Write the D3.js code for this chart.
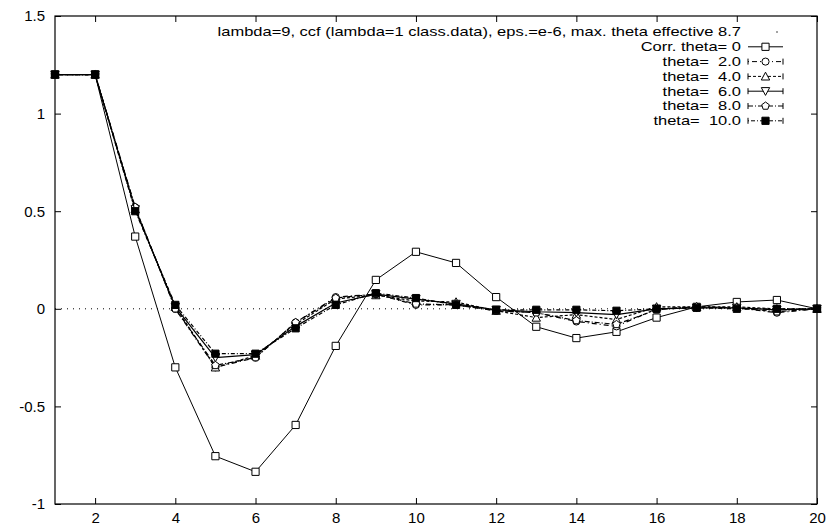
<!DOCTYPE html>
<html>
<head>
<meta charset="utf-8">
<script src="https://cdn.jsdelivr.net/npm/d3@7/dist/d3.min.js"></script>
<style>
  body { margin: 0; background: #fff; }
  svg text { font-family: "Liberation Sans", Arial, sans-serif; fill: #000; }
</style>
</head>
<body>
<div id="chart"></div>
<script>
// lag positions
const lags = [1, 2, 3, 4, 5, 6, 7, 8, 9, 10, 11, 12, 13, 14, 15, 16, 17, 18, 19, 20];

// series values
const corr0   = [1.2, 1.2, 0.37, -0.30, -0.755, -0.835, -0.595, -0.19, 0.148, 0.292, 0.235, 0.06, -0.092, -0.15, -0.118, -0.045, 0.01, 0.035, 0.045, 0];
const theta2  = [1.2, 1.2, 0.52, 0.0, -0.30, -0.25, -0.07, 0.06, 0.075, 0.02, 0.02, -0.01, -0.02, -0.065, -0.09, 0.0, 0.01, 0.005, -0.02, 0];
const theta4  = [1.2, 1.2, 0.51, 0.01, -0.30, -0.24, -0.08, 0.05, 0.07, 0.04, 0.035, -0.01, -0.045, -0.03, -0.055, 0.01, 0.01, 0.01, 0.0, 0];
const theta6  = [1.2, 1.2, 0.51, 0.01, -0.25, -0.235, -0.09, 0.03, 0.075, 0.05, 0.025, -0.005, -0.015, -0.02, -0.03, 0.0, 0.005, 0.005, -0.005, 0];
const theta8  = [1.2, 1.2, 0.52, 0.0, -0.29, -0.25, -0.07, 0.055, 0.075, 0.025, 0.02, -0.01, -0.02, -0.06, -0.08, -0.005, 0.01, 0.005, -0.015, 0];
const theta10 = [1.2, 1.2, 0.50, 0.02, -0.23, -0.23, -0.10, 0.02, 0.08, 0.055, 0.02, -0.005, -0.005, -0.005, -0.01, 0.0, 0.005, 0.0, 0.0, 0];

const xTicks = [2, 4, 6, 8, 10, 12, 14, 16, 18, 20];
const yTicks = [-1, -0.5, 0, 0.5, 1, 1.5];
const keyTitle = "lambda=9, ccf (lambda=1 class.data), eps.=e-6, max. theta effective 8.7";

// series table (labels, line dash, marker)
const series = [
  { label: "Corr. theta= 0", values: corr0,   dash: null,        marker: "square",  caps: false },
  { label: "theta=  2.0",    values: theta2,  dash: "1,3,5,3",   marker: "circle",  caps: true },
  { label: "theta=  4.0",    values: theta4,  dash: "3,2",       marker: "triUp",   caps: true },
  { label: "theta=  6.0",    values: theta6,  dash: null,        marker: "triDown", caps: true },
  { label: "theta=  8.0",    values: theta8,  dash: "5,2,1,2",   marker: "pent",    caps: true },
  { label: "theta=  10.0",   values: theta10, dash: "1,2,4,2",   marker: "filled",  caps: true }
];

const width = 832, height = 525;
const plot = { left: 55, right: 817, top: 16, bottom: 504 };

const svg = d3.select('#chart').append('svg')
  .attr('width', width)
  .attr('height', height);

const x = d3.scaleLinear().domain([1, 20]).range([plot.left, plot.right]);
const y = d3.scaleLinear().domain([-1, 1.5]).range([plot.bottom, plot.top]);

// zero line (dotted)
svg.append('line')
  .attr('x1', x(1)).attr('x2', x(20))
  .attr('y1', y(0)).attr('y2', y(0))
  .attr('stroke', '#000').attr('stroke-width', 1)
  .attr('stroke-dasharray', '1,5');

// axes, ticks pointing inward, mirrored on top and right
const fmt = d => String(d);
svg.append('g').attr('transform', `translate(0,${plot.bottom})`)
  .call(d3.axisBottom(x).tickValues(xTicks).tickFormat(fmt).tickSizeInner(-6).tickSizeOuter(0).tickPadding(8));
svg.append('g').attr('transform', `translate(0,${plot.top})`)
  .call(d3.axisTop(x).tickValues(xTicks).tickFormat('').tickSizeInner(-6).tickSizeOuter(0));
svg.append('g').attr('transform', `translate(${plot.left},0)`)
  .call(d3.axisLeft(y).tickValues(yTicks).tickFormat(fmt).tickSizeInner(-6).tickSizeOuter(0).tickPadding(10));
svg.append('g').attr('transform', `translate(${plot.right},0)`)
  .call(d3.axisRight(y).tickValues(yTicks).tickFormat('').tickSizeInner(-6).tickSizeOuter(0));

svg.selectAll('.domain').remove();
svg.selectAll('.tick line').attr('stroke', '#000');
svg.selectAll('.tick text').style('font-family', '"Liberation Sans", Arial, sans-serif').style('font-size', '15px');

svg.append('rect')
  .attr('x', plot.left).attr('y', plot.top)
  .attr('width', plot.right - plot.left).attr('height', plot.bottom - plot.top)
  .attr('fill', 'none').attr('stroke', '#000').attr('stroke-width', 1.2);

// marker shapes
function markerPath(type) {
  const s = 3.6;
  switch (type) {
    case 'square':
    case 'filled':
      return `M${-s},${-s}H${s}V${s}H${-s}Z`;
    case 'circle':
      return d3.symbol(d3.symbolCircle, 40)();
    case 'triUp':
      return `M0,${-s - 0.6}L${s + 0.6},${s}L${-s - 0.6},${s}Z`;
    case 'triDown':
      return `M0,${s + 0.6}L${s + 0.6},${-s}L${-s - 0.6},${-s}Z`;
    case 'pent': {
      const pts = d3.range(5).map(i => {
        const a = -Math.PI / 2 + i * 2 * Math.PI / 5;
        return [Math.cos(a) * (s + 0.4), Math.sin(a) * (s + 0.4)];
      });
      return 'M' + pts.map(p => p.join(',')).join('L') + 'Z';
    }
  }
}

const line = d3.line().x((d, i) => x(lags[i])).y(d => y(d));

series.forEach(s => {
  const g = svg.append('g');
  g.append('path')
    .datum(s.values)
    .attr('d', line)
    .attr('fill', 'none')
    .attr('stroke', '#000')
    .attr('stroke-width', s.marker === 'square' ? 1 : 1.2)
    .attr('stroke-dasharray', s.dash);
  g.selectAll('path.mk')
    .data(s.values)
    .enter()
    .append('path')
    .attr('class', 'mk')
    .attr('transform', (d, i) => `translate(${x(lags[i])},${y(d)})`)
    .attr('d', markerPath(s.marker))
    .attr('fill', s.marker === 'filled' ? '#000' : '#fff')
    .attr('stroke', '#000')
    .attr('stroke-width', 1);
});

// key, top right inside the frame (gnuplot's font is wide, so stretch it)
const key = { textRight: 741, sx1: 748, sx2: 783, y0: 32, dy: 14.8, stretch: 1.32 };
const keyG = svg.append('g').style('font-size', '12.5px');

function keyText(str, yy) {
  keyG.append('text')
    .attr('transform', `translate(${key.textRight},${yy}) scale(${key.stretch},1)`)
    .attr('dy', '0.35em')
    .attr('text-anchor', 'end')
    .style('white-space', 'pre')
    .text(str);
}

keyText(keyTitle, key.y0);
keyG.append('circle')
  .attr('cx', 777).attr('cy', key.y0)
  .attr('r', 0.7).attr('fill', '#000');

series.forEach((s, i) => {
  const yy = key.y0 + key.dy * (i + 1);
  const mid = (key.sx1 + key.sx2) / 2;
  keyText(s.label, yy);
  keyG.append('line')
    .attr('x1', key.sx1).attr('x2', key.sx2)
    .attr('y1', yy).attr('y2', yy)
    .attr('stroke', '#000').attr('stroke-width', 1)
    .attr('stroke-dasharray', s.dash);
  if (s.caps) {
    [key.sx1, key.sx2].forEach(cx => {
      keyG.append('line')
        .attr('x1', cx).attr('x2', cx)
        .attr('y1', yy - 3).attr('y2', yy + 3)
        .attr('stroke', '#000').attr('stroke-width', 1);
    });
  }
  keyG.append('path')
    .attr('transform', `translate(${mid},${yy})`)
    .attr('d', markerPath(s.marker))
    .attr('fill', s.marker === 'filled' ? '#000' : '#fff')
    .attr('stroke', '#000').attr('stroke-width', 1);
});
</script>
</body>
</html>
